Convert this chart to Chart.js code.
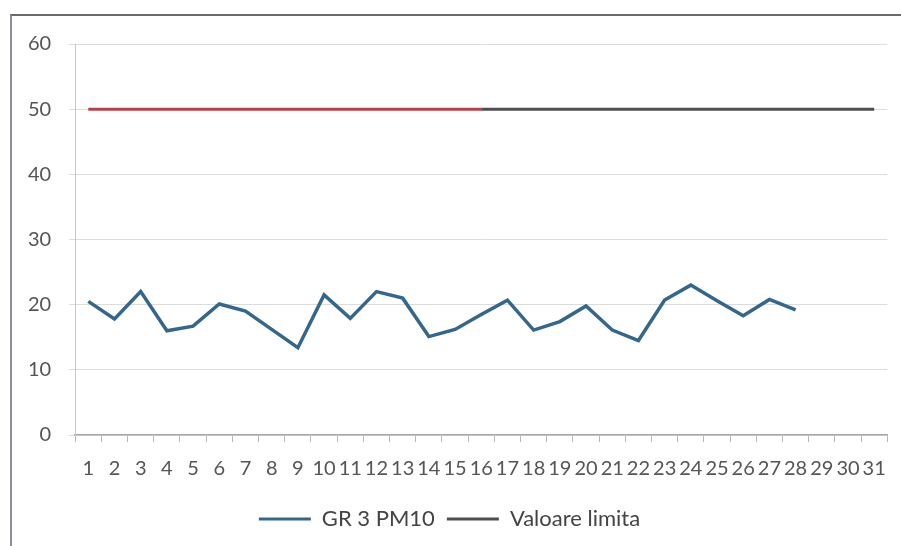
<!DOCTYPE html>
<html lang="ro">
<head>
  <meta charset="UTF-8" />
  <title>GR 3 PM10 - Valoare limita</title>
  <script src="https://cdn.jsdelivr.net/npm/chart.js"></script>
  <style>
    html, body {
      margin: 0;
      padding: 0;
      background: #ffffff;
    }
    .frame {
      position: absolute;
      left: 10px;
      top: 14px;
      width: 891px;
      height: 532px;
      border-top: 2px solid #6b6b6b;
      border-left: 2px solid #8a8f99;
      box-sizing: border-box;
    }
    .chart-box {
      position: absolute;
      left: 0;
      top: 0;
      width: 901px;
      height: 546px;
    }
  </style>
</head>
<body>

  <div class="frame"></div>
  <div class="chart-box">
    <canvas id="pmChart"></canvas>
  </div>

  <script>
    // days of the month
    const days = ['1','2','3','4','5','6','7','8','9','10','11','12','13','14','15','16',
                  '17','18','19','20','21','22','23','24','25','26','27','28','29','30','31'];

    // GR 3 PM10 daily values (only 28 days measured)
    const pm10Values = [20.5, 17.8, 22.0, 16.0, 16.7, 20.1, 19.0, 16.2, 13.4, 21.5,
                        17.9, 22.0, 21.0, 15.1, 16.2, 18.5, 20.7, 16.1, 17.4, 19.8,
                        16.1, 14.5, 20.7, 23.0, 20.6, 18.3, 20.8, 19.2];

    // limit value, 50 for every day
    const limitValues = [50, 50, 50, 50, 50, 50, 50, 50, 50, 50, 50, 50, 50, 50, 50, 50,
                         50, 50, 50, 50, 50, 50, 50, 50, 50, 50, 50, 50, 50, 50, 50];

    const yTicks = [0, 10, 20, 30, 40, 50, 60];

    const labelFont = { family: 'Lato', size: 20 };
    const legendFont = { family: 'Lato', size: 22 };

    const ctx = document.getElementById('pmChart').getContext('2d');

    const pmChart = new Chart(ctx, {
      type: 'line',
      data: {
        labels: days,
        datasets: [
          {
            label: 'GR 3 PM10',
            data: pm10Values,
            borderColor: '#35668b',
            backgroundColor: '#35668b',
            borderWidth: 3.5,
            pointRadius: 0,
            tension: 0
          },
          {
            label: 'Valoare limita',
            data: limitValues,
            borderColor: '#4f4f4f',
            backgroundColor: '#4f4f4f',
            borderWidth: 3,
            pointRadius: 0,
            tension: 0,
            // the scanned line looks reddish on its left part
            segment: {
              borderColor: c => c.p0DataIndex < 15 ? '#b4424f' : '#4f4f4f'
            }
          }
        ]
      },
      options: {
        responsive: true,
        maintainAspectRatio: false,
        animation: false,
        layout: {
          padding: { top: 44, left: 10, right: 12, bottom: 6 }
        },
        scales: {
          x: {
            offset: true,
            grid: {
              offset: true,
              drawOnChartArea: false,
              tickLength: 7,
              color: '#b8b8b8'
            },
            border: { color: '#a8a8a8', width: 1.5 },
            ticks: {
              autoSkip: false,
              maxRotation: 0,
              color: '#555555',
              font: labelFont,
              padding: 15
            }
          },
          y: {
            min: 0,
            max: 60,
            afterBuildTicks: axis => {
              axis.ticks = yTicks.map(v => ({ value: v }));
            },
            grid: {
              color: '#dcdcdc',
              tickLength: 6
            },
            border: { color: '#c8c8c8' },
            ticks: {
              color: '#555555',
              font: labelFont,
              padding: 18
            }
          }
        },
        plugins: {
          legend: {
            position: 'bottom',
            labels: {
              boxWidth: 52,
              boxHeight: 3,
              padding: 12,
              color: '#444444',
              font: legendFont,
              generateLabels: chart => {
                const items = Chart.defaults.plugins.legend.labels.generateLabels(chart);
                items.forEach(it => { it.lineWidth = 0; });
                return items;
              }
            }
          },
          tooltip: { enabled: false }
        }
      }
    });
  </script>

</body>
</html>
